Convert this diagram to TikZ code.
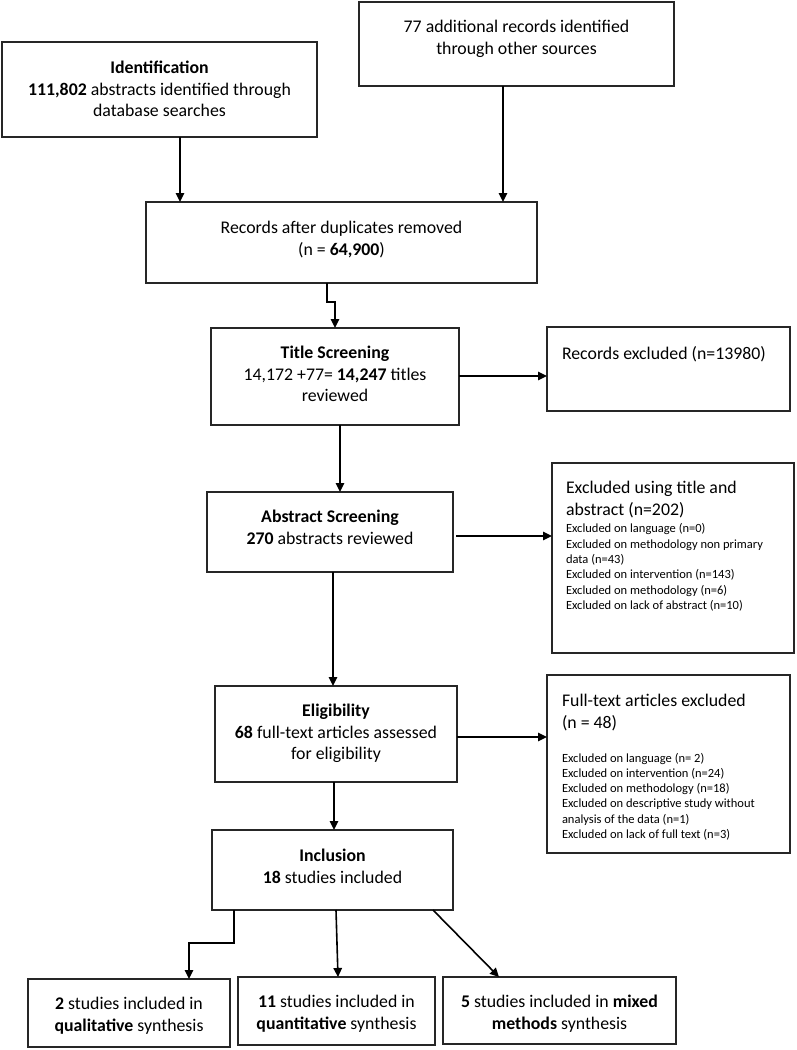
\documentclass[tikz,border=0pt]{standalone}
\usepackage{fontspec}
\setmainfont{Carlito}
\usetikzlibrary{arrows.meta}
\begin{document}
\begin{tikzpicture}[x=1pt,y=-1pt,
  box/.style={draw=black!85, line width=1.4pt, inner sep=0pt, outer sep=0pt},
  txt/.style={inner sep=0pt, outer sep=0pt, font=\fontsize{17.8}{21.7}\selectfont, align=center, anchor=north},
  txtl/.style={inner sep=0pt, outer sep=0pt, font=\fontsize{17.8}{21.7}\selectfont, align=left, anchor=north west},
  smallb/.style={inner sep=0pt, outer sep=0pt, font=\fontsize{12.5}{15.3}\selectfont, align=left, anchor=north west},
  arr/.style={draw=black, line width=1.6pt, -{Triangle[length=9pt,width=8.5pt]}},
]
\useasboundingbox (0,0) rectangle (796,1050);

% boxes
\node[box, minimum width=315pt, minimum height=95pt] (ident) at (159.5,89.5) {};
\node[box, minimum width=315pt, minimum height=84pt] (other) at (516.5,44) {};
\node[box, minimum width=391pt, minimum height=81pt] (records) at (341.5,242.5) {};
\node[box, minimum width=248pt, minimum height=97pt] (title) at (335,376.5) {};
\node[box, minimum width=243pt, minimum height=84pt] (excl1) at (668.5,369) {};
\node[box, minimum width=246pt, minimum height=80pt] (abstract) at (330,532) {};
\node[box, minimum width=242pt, minimum height=190pt] (excl2) at (673,558) {};
\node[box, minimum width=242pt, minimum height=96pt] (elig) at (336,734) {};
\node[box, minimum width=243pt, minimum height=178pt] (full) at (668.5,764) {};
\node[box, minimum width=241pt, minimum height=80pt] (incl) at (332.5,870) {};
\node[box, minimum width=202pt, minimum height=68pt] (q1) at (129,1013) {};
\node[box, minimum width=197pt, minimum height=68pt] (q2) at (336.5,1011) {};
\node[box, minimum width=233pt, minimum height=67pt] (q3) at (559.5,1010.5) {};

% texts
\node[txt] (identT) at (159.5,58.3) {\strut\textbf{Identification}\\ \strut\textbf{111,802} abstracts identified through\\ \strut database searches};
\node[txt] (otherT) at (516.5,17.3) {\strut 77 additional records identified\\ \strut through other sources};
\node[txt] (recordsT) at (341.5,218.3) {\strut Records after duplicates removed\\ \strut (n = \textbf{64,900})};
\node[txt] (titleT) at (335,343.3) {\strut\textbf{Title Screening}\\ \strut 14,172 +77= \textbf{14,247} titles\\ \strut reviewed};
\node[txtl] (excl1T) at (562,344.3) {\strut Records excluded (n=13980)};
\node[txt] (abstractT) at (330,507.3) {\strut\textbf{Abstract Screening}\\ \strut\textbf{270} abstracts reviewed};
\node[txtl] (excl2T) at (566,478.3) {\strut Excluded using title and\\ \strut abstract (n=202)};
\node[smallb] (excl2L) at (566,522.2) {\strut Excluded on language (n=0)\\ \strut Excluded on methodology non primary\\ \strut data (n=43)\\ \strut Excluded on intervention (n=143)\\ \strut Excluded on methodology (n=6)\\ \strut Excluded on lack of abstract (n=10)};
\node[txt] (eligT) at (336,701.3) {\strut\textbf{Eligibility}\\ \strut\textbf{68} full-text articles assessed\\ \strut for eligibility};
\node[txtl] (fullT) at (562,691.3) {\strut Full-text articles excluded\\ \strut (n = 48)};
\node[smallb] (fullL) at (562,751.3) {\strut Excluded on language (n= 2)\\ \strut Excluded on intervention (n=24)\\ \strut Excluded on methodology (n=18)\\ \strut Excluded on descriptive study without\\ \strut analysis of the data (n=1)\\ \strut Excluded on lack of full text (n=3)};
\node[txt] (inclT) at (332.5,846.3) {\strut\textbf{Inclusion}\\ \strut\textbf{18} studies included};
\node[txt] (q1T) at (129,994.3) {\strut\textbf{2} studies included in\\ \strut\textbf{qualitative} synthesis};
\node[txt] (q2T) at (336.5,992.3) {\strut\textbf{11} studies included in\\ \strut\textbf{quantitative} synthesis};
\node[txt] (q3T) at (559.5,992.3) {\strut\textbf{5} studies included in \textbf{mixed}\\ \strut\textbf{methods} synthesis};

% helper coordinates
\coordinate (xa) at (180,0);
\coordinate (xb) at (503,0);
\coordinate (s1) at (327,302);
\coordinate (s2) at (335,302);
\coordinate (ya) at (0,376);
\coordinate (xc) at (340,0);
\coordinate (yb) at (0,536);
\coordinate (xd) at (333,0);
\coordinate (yc) at (0,737);
\coordinate (xe) at (334,0);
\coordinate (e1) at (234,943);
\coordinate (e2) at (189,943);
\coordinate (m1) at (336,0);
\coordinate (m2) at (338,0);
\coordinate (d1) at (433,0);
\coordinate (d2) at (499,0);

% connectors
\draw[arr] (ident.south -| xa) -- (records.north -| xa);
\draw[arr] (other.south -| xb) -- (records.north -| xb);
\draw[arr] (records.south -| s1) -- (s1) -- (s2) -- (title.north -| s2);
\draw[arr] (title.east |- ya) -- (excl1.west |- ya);
\draw[arr] (title.south -| xc) -- (abstract.north -| xc);
\draw[arr] ([xshift=3pt]abstract.east |- yb) -- (excl2.west |- yb);
\draw[arr] (abstract.south -| xd) -- (elig.north -| xd);
\draw[arr] (elig.east |- yc) -- (full.west |- yc);
\draw[arr] (elig.south -| xe) -- (incl.north -| xe);
\draw[arr] (incl.south -| e1) -- (e1) -- (e2) -- (q1.north -| e2);
\draw[arr] (incl.south -| m1) -- (q2.north -| m2);
\draw[arr] (incl.south -| d1) -- (q3.north -| d2);
\end{tikzpicture}
\end{document}
